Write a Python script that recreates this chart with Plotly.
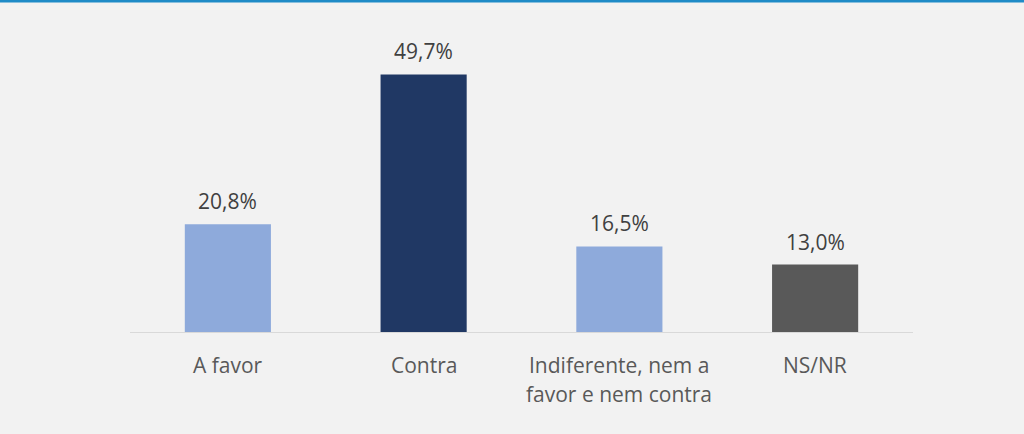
import plotly.graph_objects as go

categorias = ["A favor", "Contra", "Indiferente, nem a<br>favor e nem contra", "NS/NR"]
valores = [20.8, 49.7, 16.5, 13.0]
rotulos = ["20,8%", "49,7%", "16,5%", "13,0%"]
cores = ["#8eaadb", "#203864", "#8eaadb", "#595959"]

FONTE = "Open Sans"

fig = go.Figure()
fig.add_trace(go.Bar(
    x=categorias,
    y=valores,
    marker=dict(color=cores, line=dict(width=0)),
    hoverinfo="skip",
))

for cat, val, rot in zip(categorias, valores, rotulos):
    fig.add_annotation(
        x=cat, y=val, text=rot, showarrow=False,
        yanchor="bottom", yshift=7,
        font=dict(family=FONTE, size=21, color="#404040"),
    )

# rótulos das categorias (linhas separadas para espaçamento maior)
for cat in categorias:
    for i, linha in enumerate(cat.split("<br>")):
        fig.add_annotation(
            x=cat, xref="x", y=0, yref="paper", text=linha, showarrow=False,
            yanchor="middle", yshift=-33 - 29 * i,
            font=dict(family=FONTE, size=21, color="#595959"),
        )

# faixa azul no topo
fig.add_shape(
    type="rect", xref="paper", yref="paper",
    x0=-0.3, x1=1.3, ysizemode="pixel", yanchor=1, y0=18.5, y1=25,
    fillcolor="#1f8bc7", line=dict(width=0), layer="above",
)

fig.update_layout(
    width=1024, height=434,
    margin=dict(l=130, r=111, t=21, b=102),
    paper_bgcolor="#f2f2f2",
    plot_bgcolor="#f2f2f2",
    bargap=0.56,
    showlegend=False,
    font=dict(family=FONTE, size=21, color="#595959"),
)
fig.update_xaxes(
    showline=True, linecolor="#d9d9d9", linewidth=1,
    showgrid=False, ticks="", showticklabels=False,
)
fig.update_yaxes(range=[0, 60], visible=False, showgrid=False, zeroline=False)

fig.write_html("out.html", config={"displayModeBar": False},
               post_script="document.body.style.margin='0';")
